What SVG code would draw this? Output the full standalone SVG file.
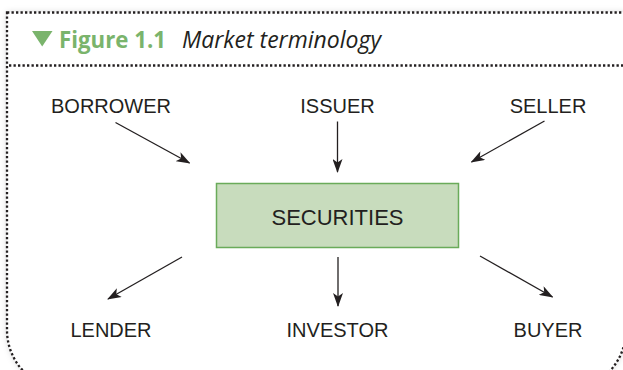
<svg xmlns="http://www.w3.org/2000/svg" width="623" height="370" viewBox="0 0 623 370">
<style>
.dot{fill:none;stroke:#231f20;stroke-width:2.3;stroke-dasharray:2.3 2.2}
.lbl{font-family:"Liberation Sans",Arial,sans-serif;font-size:20px;fill:#231f20;text-anchor:middle}
.conn line{stroke:#231f20;stroke-width:1.3;marker-end:url(#ah)}
</style>
<defs>
<marker id="ah" viewBox="0 0 14 10" refX="13" refY="5" markerWidth="14" markerHeight="10" markerUnits="userSpaceOnUse" orient="auto">
<path d="M0,0 L14,5 L0,10 L3.5,5 Z" fill="#231f20"/>
</marker>
<filter id="sh" x="-5%" y="-10%" width="110%" height="120%">
<feDropShadow dx="0" dy="0" stdDeviation="3" flood-color="#000" flood-opacity="0.18"/>
</filter>
</defs>
<rect width="623" height="370" fill="#fff"/>
<g id="frame">
<path d="M7,12.5 H626 V330 A60,60 0 0 1 566,390 H67 A60,60 0 0 1 7,330 Z" fill="#fff" filter="url(#sh)"/>
<path class="dot" d="M7,12.5 H626 V330 A60,60 0 0 1 566,390 H67 A60,60 0 0 1 7,330 Z"/>
<line class="dot" x1="9" y1="65.5" x2="623" y2="65.5"/>
<polygon points="32,31 52.5,31 42.2,46.5" fill="#7ab46c"/>
<text x="59" y="48" font-family="'Open Sans',sans-serif" font-weight="bold" font-size="24" fill="#7ab46c" textLength="107" lengthAdjust="spacingAndGlyphs">Figure 1.1</text>
<text x="182" y="48" font-family="'Open Sans',sans-serif" font-style="italic" font-size="24" fill="#231f20" textLength="199" lengthAdjust="spacingAndGlyphs">Market terminology</text>
</g>
<g id="securities">
<rect x="216.5" y="183.5" width="242" height="64" fill="#c8dcbd" stroke="#6aab5a" stroke-width="1.5"/>
<text class="lbl" x="337.5" y="225" style="font-size:22px">SECURITIES</text>
</g>
<g id="borrower"><text class="lbl" x="111" y="112.5">BORROWER</text></g>
<g id="issuer"><text class="lbl" x="337.5" y="112.5">ISSUER</text></g>
<g id="seller"><text class="lbl" x="548" y="112.5">SELLER</text></g>
<g id="lender"><text class="lbl" x="111" y="336.5">LENDER</text></g>
<g id="investor"><text class="lbl" x="337.5" y="336.5">INVESTOR</text></g>
<g id="buyer"><text class="lbl" x="548" y="336.5">BUYER</text></g>
<g class="conn" id="connectors">
<line x1="115.5" y1="122.5" x2="189.5" y2="163"/>
<line x1="337.5" y1="121.5" x2="337.5" y2="172"/>
<line x1="544.5" y1="121" x2="471.5" y2="162"/>
<line x1="182" y1="257" x2="108" y2="299"/>
<line x1="338" y1="257" x2="338" y2="306"/>
<line x1="480" y1="256" x2="552.5" y2="297"/>
</g>
</svg>
